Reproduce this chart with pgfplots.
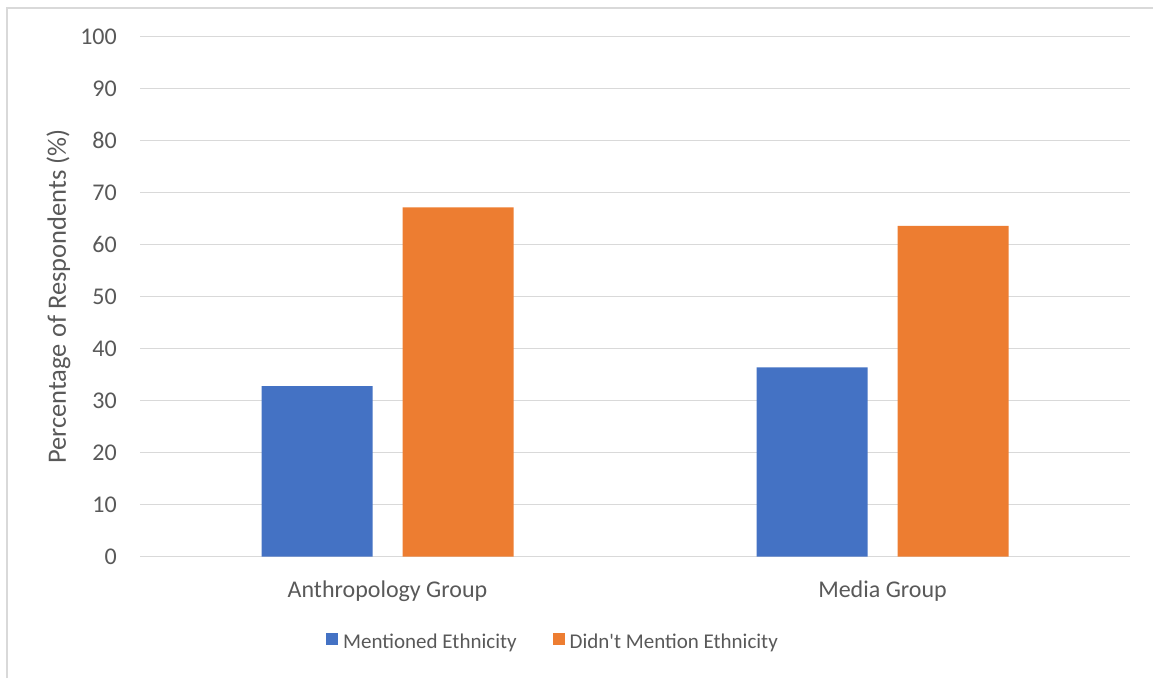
\documentclass[border=0pt]{standalone}
\usepackage{pgfplots}
\pgfplotsset{compat=1.18}
\usepackage{fontspec}
\setmainfont{Carlito}
\definecolor{xblue}{HTML}{4472C4}
\definecolor{xorange}{HTML}{ED7D31}
\definecolor{xgrid}{HTML}{D9D9D9}
\definecolor{xtext}{HTML}{595959}
\pgfplotsset{sqlegend/.style={legend image code/.code={\fill[##1] (0pt,-3pt) rectangle (12pt,9pt);}}}
\begin{document}
\begin{tikzpicture}
\path[use as bounding box] (0,0) rectangle (1153pt,678pt);
\fill[white] (0,0) rectangle (1153pt,678pt);
\draw[xgrid, line width=1.5pt] (7pt,0) -- (7pt,670pt) -- (1153pt,670pt);
\begin{axis}[
 at={(140pt,121.3pt)}, anchor=south west,
 scale only axis, width=990pt, height=520pt,
 xmin=-0.5, xmax=1.5, ymin=0, ymax=100,
 ytick={0,10,...,100},
 xtick={0,1}, xticklabels={Anthropology Group, Media Group},
 axis line style={draw=none},
 major tick length=0pt,
 ymajorgrids, grid style={xgrid, line width=1.3pt},
 tick label style={text=xtext, font=\fontsize{24}{29}\selectfont},
 /pgf/number format/assume math mode=true,
 yticklabel style={anchor=east, inner sep=0pt, xshift=-23pt},
 xticklabel style={anchor=base, inner sep=0pt, yshift=-40.3pt},
 ylabel={Percentage of Respondents (\%)},
 ylabel style={at={(axis description cs:-0.07475,0.5)}, anchor=base, text=xtext, inner sep=0pt,
   font=\fontsize{26.5}{32}\selectfont},
 legend columns=2,
 legend style={at={(axis description cs:0.18788,-0.1635)}, anchor=west, draw=none, fill=none,
   text=xtext, font=\fontsize{21}{25}\selectfont, inner sep=0pt, column sep=0pt,
   nodes={inner sep=0pt},
   /tikz/every odd column/.append style={column sep=5pt},
   /tikz/every even column/.append style={column sep=36pt}},
]
\addplot[ybar, bar width=111pt, bar shift=-70.5pt, fill=xblue, draw=none, sqlegend]
  coordinates {(0,32.8) (1,36.4)};
\addlegendentry{Mentioned Ethnicity}
\addplot[ybar, bar width=111pt, bar shift=70.5pt, fill=xorange, draw=none, sqlegend]
  coordinates {(0,67.2) (1,63.6)};
\addlegendentry{Didn\textquotesingle t Mention Ethnicity}
\end{axis}
\end{tikzpicture}
\end{document}
